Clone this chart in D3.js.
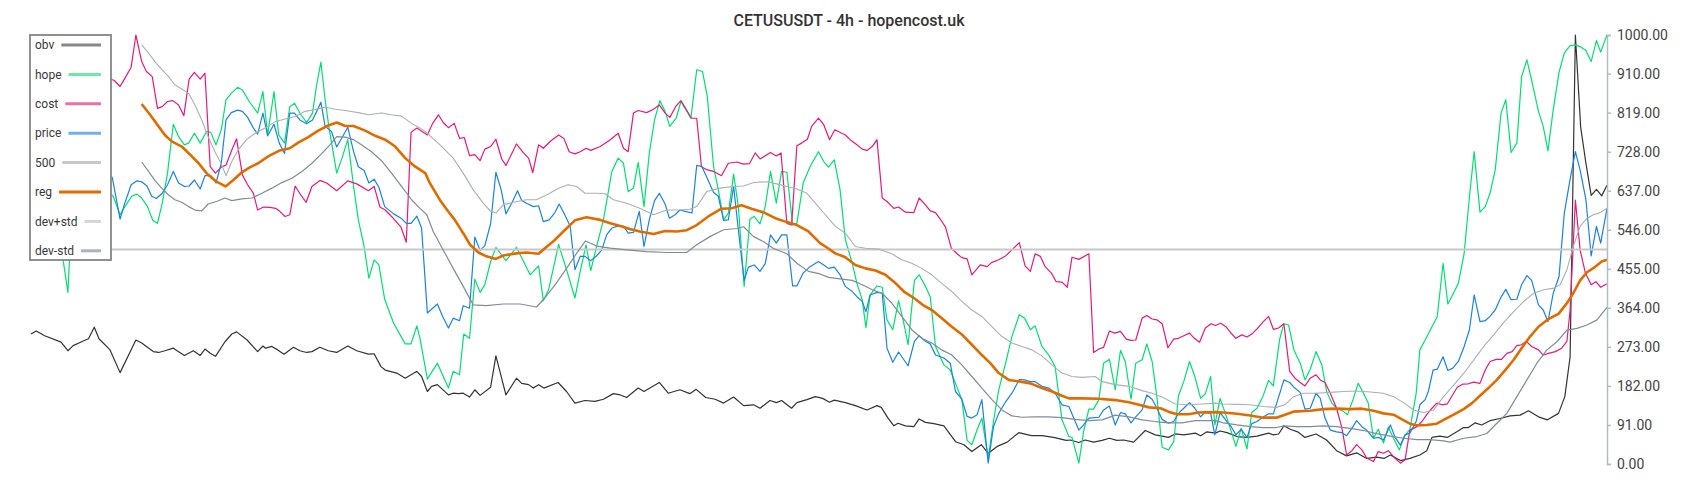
<!DOCTYPE html>
<html>
<head>
<meta charset="utf-8">
<script src="https://cdn.jsdelivr.net/npm/d3@7"></script>
<style>
  html, body { margin: 0; padding: 0; background: #fff; }
  svg { display: block; font-family: Roboto, "Noto Sans", sans-serif; }
</style>
</head>
<body>
<svg id="chart" width="1700" height="500"></svg>
<script>
// ---- data: [bar index, value] ----
const title = "CETUSUSDT - 4h - hopencost.uk";
const yTicks = [0, 91, 182, 273, 364, 455, 546, 637, 728, 819, 910, 1000];
const seriesNames = ["obv", "hope", "cost", "price", "500", "reg", "dev+std", "dev-std"];

const obv = [[0,303],[1,310],[2.6,299],[5.7,284],[7,264],[8,276],[9.6,285],[10.9,292],[12,319],[12.9,292],[15,266],[16.9,213],[19.9,289],[21,282],[23.2,262],[24.2,260],[25.4,264],[27,270],[29.1,253],[30.8,264],[32.1,253],[33,268],[34,258],[35,251],[36.8,285],[38.1,303],[39,308],[41,289],[43,262],[44,275],[44.5,270],[45.7,274],[46.8,266],[48,256],[49.8,272],[51,264],[52.3,260],[53.3,262],[54.8,272],[56.4,264],[58,260],[60.1,275],[61.8,264],[64,256],[65.1,257],[66.4,227],[67.2,219],[69.4,212],[71,200],[73.2,216],[74.1,204],[75.2,169],[76,181],[77.1,185],[79.2,161],[80.1,165],[81.1,164],[82,165],[83.2,156],[84.2,173],[85.2,160],[87.2,179],[88.2,252],[90.1,161],[92.1,200],[93.1,188],[94.4,185],[95.3,177],[96.3,185],[97.3,177],[100,190],[101.6,169],[103.2,142],[105.1,148],[107,146],[108.6,151],[110.5,164],[111.8,161],[113,155],[115.2,177],[116.3,169],[119.2,190],[120.9,165],[123.1,173],[125,164],[126.2,174],[128,155],[129.8,151],[131.4,142],[133.3,156],[135.2,136],[137.1,138],[138.3,130],[140.2,148],[141.4,143],[142.4,148],[144.3,130],[145.3,143],[147.2,150],[148.8,157],[150.2,153],[151.5,144],[152.4,149],[154.5,143],[156.4,136],[158.6,126],[160.5,136],[161.3,132],[162.6,107],[163.7,89],[164.5,95],[165.9,89],[167.5,87],[168.5,105],[169.7,97],[171.3,94],[173.2,89],[175.4,52],[177,45],[178.5,29],[180.3,45],[181.6,25],[183.3,41],[185.2,51],[187.4,73],[189.8,66],[191.8,66],[194,62],[196.4,55],[197.2,56],[198.8,50],[200,56],[201.6,51],[203.2,55],[204.6,60],[206,55],[207.3,56],[209.2,51],[211.4,78],[213.3,68],[215.8,62],[217.1,70],[218.7,68],[220.9,72],[221.9,66],[223.1,75],[224.7,72],[225.6,77],[226.9,73],[228.8,64],[230.7,62],[232.6,65],[234.8,72],[235.7,68],[236.7,70],[237.7,89],[238.9,81],[240.3,75],[241.7,62],[243.8,70],[245.8,56],[247.7,31],[249.6,19],[251.5,26],[253.4,13],[255.3,16],[256.7,13],[257.9,21],[259.8,8],[261.6,13],[263.5,21],[264.8,31],[265.8,62],[267.3,65],[268.7,62],[270.5,75],[271.8,85],[272.7,85],[274,96],[275.2,91],[276.8,101],[278.7,106],[280.6,112],[282.5,114],[284.1,124],[286,110],[287.7,103],[289.8,118],[291,157],[292,250],[293,1000],[294,786],[295,701],[296,626],[297,640],[298,625],[299,650]];

const hope = [[0,600],[3,560],[5.8,500],[7,400],[7.4,500],[10,600],[13,650],[15.6,624],[16.9,581],[17.8,600],[19.1,624],[20.1,629],[21,620],[22.1,600],[23.1,568],[24,561],[24.9,608],[25.9,678],[27,792],[28,763],[29.1,744],[29.9,748],[31,771],[32.1,748],[33.3,775],[34.1,773],[35.1,744],[36.1,779],[37,849],[38,864],[39.2,878],[40.1,872],[41.4,845],[43,818],[44,868],[44.9,767],[46.1,868],[47,767],[48.1,748],[49.1,833],[50,841],[51,818],[52.3,796],[53.4,818],[54.2,884],[55,937],[55.8,849],[56.5,787],[58,678],[59,713],[60.1,756],[61.2,647],[62.1,569],[63.2,507],[64.1,433],[65.1,476],[66,464],[67.1,384],[68.8,328],[71,280],[72.1,280],[73.2,322],[73.8,293],[75.2,198],[77.1,235],[79.2,177],[80.1,216],[81.3,208],[82.1,303],[83.2,293],[84.2,431],[85.2,400],[86.1,418],[87.2,472],[88.2,505],[90.1,474],[92.1,505],[94.7,441],[96.3,462],[97.2,381],[98.2,406],[100.1,512],[101.6,453],[103.2,387],[104.2,449],[105.3,511],[106.2,451],[107.3,507],[108.6,569],[110.2,682],[111.4,713],[112.4,701],[113.3,635],[114.3,643],[115.2,703],[116.3,600],[117.3,724],[118.3,802],[119.3,847],[120.3,822],[121.2,787],[122.4,806],[123.3,845],[125.2,806],[126.3,919],[127.4,915],[128.3,857],[129.5,693],[130.4,639],[131.4,569],[132.3,585],[133.3,676],[134.2,600],[135.3,414],[136.4,571],[137.2,577],[138.3,560],[139.3,600],[140.3,682],[141.4,608],[142.4,682],[143.4,680],[144.5,557],[145.3,561],[146.5,655],[147.8,693],[149.4,728],[150.4,705],[151.3,692],[152.4,709],[153.5,639],[154.5,523],[155.8,468],[156.7,421],[157.7,383],[158.4,318],[159.2,394],[160.5,415],[161.5,412],[162.4,336],[163.5,313],[164.6,381],[165.6,328],[166.4,278],[167.6,428],[168.5,441],[169.7,414],[170.6,390],[171.6,274],[173.2,231],[174.4,219],[175.4,188],[176.6,150],[177.6,55],[178.5,45],[179.5,80],[180.4,107],[181.6,14],[182.6,99],[183.6,173],[184.9,235],[186.1,297],[187.5,348],[188.5,340],[189.6,313],[190.5,322],[191.8,274],[193.1,254],[194.3,227],[195.6,103],[196.9,64],[197.5,62],[198.8,2],[199.7,76],[200.7,128],[201.6,128],[202.6,150],[203.5,235],[204.6,244],[205.7,173],[206.7,265],[207.6,239],[208.7,151],[209.6,235],[210.8,243],[211.7,280],[212.7,239],[213.6,157],[214.6,39],[215.8,33],[216.8,52],[217.7,159],[218.7,192],[219.8,239],[220.8,204],[221.9,153],[222.8,164],[223.8,204],[224.6,91],[225.6,153],[226.9,107],[228.6,41],[229.6,83],[230.7,35],[231.6,120],[232.6,130],[233.7,157],[234.8,195],[235.7,182],[236.9,291],[237.7,327],[238.6,324],[239.6,266],[240.8,235],[241.7,196],[242.7,221],[243.8,262],[244.9,231],[245.8,169],[246.8,142],[247.7,130],[248.7,125],[249.8,115],[250.8,150],[251.8,188],[252.8,165],[253.7,142],[254.7,60],[255.6,81],[256.6,49],[257.5,86],[258.5,60],[259.6,33],[260.7,68],[261.6,80],[262.8,165],[263.5,266],[264.5,289],[265.8,320],[266.8,344],[267.9,468],[268.8,373],[269.7,394],[270.8,421],[271.9,491],[272.9,623],[273.8,728],[274.9,587],[275.9,600],[276.8,631],[277.8,686],[278.9,818],[279.8,849],[280.8,726],[281.9,748],[282.8,903],[283.8,942],[284.7,895],[286,822],[286.9,787],[287.8,730],[288.8,826],[289.9,913],[290.9,958],[292,975],[293,977],[293.9,973],[295,964],[296,938],[297,987],[297.8,960],[299,1000]];

const cost = [[0,870],[4,880],[8,900],[12,880],[15.2,897],[15.8,894],[16.9,880],[17.8,899],[19,925],[19.9,1000],[21,938],[21.9,915],[23,903],[24,829],[24.9,833],[25.9,845],[26.9,847],[28,837],[29,812],[30,897],[31,913],[32.1,897],[33,911],[34,693],[35,678],[36.1,692],[37,697],[38.1,732],[39,758],[40.1,674],[41.1,651],[42.2,631],[43,592],[44.1,599],[45.3,598],[46.4,596],[47.2,589],[48.2,577],[49.1,581],[50.1,648],[51.2,627],[52.2,610],[53.3,647],[54.8,661],[56.1,655],[58,637],[60.1,660],[61.8,653],[64,637],[65.1,647],[66.2,599],[67.2,592],[68.4,577],[70.2,552],[71.2,517],[72.1,773],[73.2,783],[74.2,775],[75.2,767],[76.2,794],[77.3,814],[78.2,796],[79.2,784],[80.3,794],[81.3,759],[82.2,761],[83.2,719],[84.2,721],[85.2,707],[86.1,734],[87.2,740],[88.2,757],[89.3,711],[90.1,696],[91.2,723],[92.1,746],[93.4,726],[94.4,713],[95.2,679],[96.3,744],[97.2,736],[98.6,753],[100.1,767],[101.1,759],[102.1,728],[103.2,723],[104.2,728],[105.3,736],[106.2,731],[108,740],[109.9,756],[111.4,771],[112.4,736],[113.3,728],[114.3,818],[115.2,824],[116.8,819],[118.1,827],[119.2,837],[120.3,818],[121.2,808],[122.4,835],[123.3,847],[124.3,827],[125.3,806],[126.3,806],[127.2,693],[128.2,686],[129.5,682],[131,672],[132.3,701],[133.9,704],[135.2,699],[136.3,700],[137.4,725],[138.3,711],[140.3,726],[141.4,718],[142.3,725],[143.4,561],[144.3,557],[145.3,742],[146.2,748],[147.3,757],[148.1,787],[149.4,806],[150.4,791],[151.5,756],[152.5,779],[154.5,767],[155.4,756],[156.7,744],[157.7,734],[158.6,731],[159.6,740],[160.5,756],[161.5,620],[162.4,612],[163.7,596],[164.6,599],[165.9,587],[167.5,586],[168.5,620],[169.7,604],[170.6,590],[171.6,586],[172.5,571],[173.5,552],[174.6,503],[175.7,490],[176.6,481],[177.6,478],[178.5,441],[180.1,464],[181.4,460],[182.3,470],[183.6,476],[184.9,485],[186.1,499],[187.5,516],[188.6,462],[189.6,449],[190.5,490],[191.5,484],[192.4,460],[193.6,445],[194.5,425],[195.6,424],[196.6,412],[197.5,482],[198.8,477],[200.7,490],[201.6,260],[202.6,268],[203.5,272],[204.6,310],[205.6,305],[206.7,309],[207.8,291],[208.7,288],[209.6,289],[210.8,340],[211.7,346],[212.7,338],[213.6,336],[214.6,327],[215.7,271],[216.8,291],[217.7,293],[218.7,299],[219.8,305],[220.7,293],[221.7,284],[222.8,317],[223.9,327],[224.7,323],[225.7,328],[226.7,320],[227.6,306],[228.6,293],[229.7,301],[230.7,296],[231.8,305],[232.9,319],[233.8,332],[234.8,344],[235.7,314],[236.7,317],[237.7,327],[238.8,216],[239.8,200],[240.8,190],[241.7,182],[242.7,200],[243.8,208],[244.6,196],[245.5,190],[246.5,165],[247.7,130],[248.7,84],[249.6,21],[250.6,31],[251.5,45],[252.5,33],[253.4,14],[254.7,6],[255.6,29],[256.6,25],[257.5,31],[258.5,17],[259.8,2],[260.7,10],[261.6,79],[262.8,86],[263.9,99],[264.8,115],[265.8,130],[266.7,142],[267.7,138],[268.7,140],[269.7,161],[270.6,179],[271.6,186],[272.7,187],[273.7,191],[274.9,188],[275.9,219],[276.8,239],[278,244],[279,244],[280,258],[281,262],[281.9,276],[282.8,278],[283.7,286],[284.7,274],[286,266],[286.9,254],[287.9,258],[289.2,262],[290.4,270],[291.4,286],[292,359],[293,615],[293.9,499],[294.9,445],[296,418],[296.9,425],[297.8,412],[299,420]];

const price = [[0,640],[5,620],[10,660],[15.4,669],[16.9,571],[17.8,608],[19,651],[20.1,660],[21,658],[22,648],[22.9,624],[23.8,619],[24.9,631],[25.9,651],[27,682],[28,655],[29.1,647],[30,648],[31,662],[32.1,641],[33,672],[34.1,672],[35.1,655],[36.1,701],[37,802],[38,819],[39.2,825],[40.1,822],[41.1,808],[42.2,783],[43,769],[44,818],[44.9,765],[46.1,792],[47.1,748],[48.1,724],[49.1,818],[50,818],[51,802],[52.3,793],[53.4,802],[54.2,822],[55,843],[55.8,787],[57,775],[58,739],[59.1,763],[60.1,785],[61.2,728],[62.1,693],[63.2,684],[64.1,655],[65.1,664],[66,645],[67.1,600],[68.8,583],[70.2,573],[71.2,561],[72.1,561],[73.2,578],[74.1,550],[75.2,352],[76.2,363],[77.1,373],[78.1,344],[79.2,317],[80.1,340],[81.3,334],[82,369],[83.2,363],[84.2,529],[85.2,498],[86.1,509],[87.2,560],[88.2,680],[89.2,639],[90.1,583],[91.2,608],[92.3,637],[93.1,614],[94,608],[95.3,600],[96.3,602],[97.2,565],[98.3,569],[99.4,586],[100.2,606],[101.1,585],[102.3,554],[103.2,453],[104.2,484],[105.1,484],[106.2,474],[107.3,485],[108.3,499],[109.2,534],[110.2,550],[111.4,555],[112.5,554],[113.3,538],[114.3,540],[115.4,589],[116.3,507],[117.3,569],[118.3,614],[119.2,631],[120.3,606],[121.1,573],[122.2,581],[123.1,592],[124.1,589],[125.4,585],[126.3,696],[127.3,693],[128.3,666],[129.5,633],[130.4,624],[131.4,568],[132.3,569],[133.3,647],[134.2,546],[135.3,428],[136.1,459],[137.2,464],[138.3,449],[139.3,467],[140.3,534],[141.4,515],[142.4,534],[143.4,534],[144.5,415],[145.3,415],[146.5,445],[147.8,460],[149.4,472],[150.4,464],[151.3,456],[152.4,459],[153.5,441],[154.5,414],[155.8,402],[156.7,390],[157.7,379],[158.4,355],[159.2,394],[160.5,400],[161.5,398],[162.4,270],[163.5,237],[164.6,261],[165.6,243],[166.4,229],[167.6,286],[168.5,299],[169.7,286],[170.6,280],[171.6,254],[173.2,247],[174.4,235],[175.4,169],[176.6,151],[177.6,111],[178.5,107],[179.5,115],[180.4,150],[181.6,2],[182.6,87],[183.6,118],[184.9,145],[186.1,165],[187.5,197],[188.5,196],[189.6,192],[190.5,192],[191.8,181],[193.1,177],[194.3,165],[195.6,138],[196.9,134],[198.8,79],[199.7,91],[200.7,107],[202.6,109],[203.5,126],[204.6,135],[205.7,91],[206.7,120],[207.6,117],[208.7,96],[209.6,110],[210.8,126],[211.7,161],[212.7,151],[213.6,130],[214.6,104],[215.8,95],[216.8,99],[217.7,118],[218.7,130],[219.8,143],[220.8,130],[221.9,110],[222.8,122],[223.8,118],[224.6,68],[225.6,120],[226.9,99],[227.6,89],[228.6,68],[229.6,81],[230.7,62],[231.6,94],[232.6,99],[233.7,109],[234.8,117],[235.7,117],[236.9,164],[237.7,196],[238.8,190],[239.6,179],[240.8,167],[241.7,128],[242.7,130],[243.8,165],[244.6,153],[245.5,107],[246.5,79],[247.7,75],[248.7,73],[249.6,66],[250.6,83],[251.5,101],[252.5,87],[253.4,79],[254.7,60],[255.6,62],[256.6,56],[257.9,91],[258.8,62],[259.8,44],[260.7,68],[261.6,72],[262.8,99],[263.5,138],[264.5,150],[265.1,169],[266,219],[266.8,221],[267.9,250],[268.8,218],[269.7,223],[270.8,239],[271.9,274],[272.9,313],[273.8,394],[274.9,332],[275.9,334],[276.8,344],[277.8,359],[278.9,389],[279.8,407],[280.8,383],[281.9,384],[282.8,418],[283.8,439],[284.7,428],[286,371],[286.9,359],[287.8,332],[288.8,398],[289.9,437],[290.9,585],[292,664],[293,728],[293.9,685],[295,616],[296,485],[297,554],[297.8,515],[299,596]];

const level500 = [[0,500],[299,500]];

const reg = [[21,839],[22.6,814],[24.2,787],[25.4,767],[26.7,752],[28.6,740],[30.2,721],[31.8,701],[33.3,678],[35.2,658],[36.9,647],[38.4,662],[40,680],[41.6,692],[43.1,701],[45,717],[47.2,731],[49.1,736],[50.7,749],[52.6,762],[54.5,777],[56.4,789],[58,796],[59.6,788],[61.2,788],[63.4,777],[65.3,765],[67.2,756],[69.1,740],[71,713],[72.9,693],[74.8,678],[75.7,654],[77.6,615],[79.2,588],[80.4,569],[82,538],[83.3,511],[84.9,493],[86.4,484],[88.2,478],[89.6,486],[92.1,491],[94,493],[96.3,490],[97.5,503],[99.1,519],[101,542],[103.2,568],[105.4,575],[108,569],[109.9,561],[111.8,555],[113.6,548],[115.5,542],[118.1,536],[120.3,543],[122.5,542],[124.4,545],[126.3,557],[128.5,577],[131,595],[132.9,596],[134.8,603],[136.7,595],[138.9,587],[141.2,573],[143.1,565],[145.3,557],[147.5,542],[149.7,515],[150.7,507],[152.6,491],[154.5,482],[156.4,464],[158.3,456],[160.2,451],[162.1,441],[163.7,425],[165.6,402],[167.5,387],[169.4,369],[170.9,359],[172.8,340],[174.7,320],[176.6,302],[178.5,278],[180.4,254],[182,235],[183.6,212],[185.5,196],[187.7,192],[189.6,188],[191.8,177],[193.7,169],[195.6,159],[196.9,153],[199.4,153],[202.6,152],[205.7,149],[208.3,144],[210.2,138],[212.1,132],[214.3,130],[215.8,122],[217.4,116],[219.6,116],[221.5,120],[224.7,121],[226.2,120],[228.8,117],[231.3,113],[233.8,108],[236.3,108],[237.9,115],[239.5,122],[242.7,124],[245.2,128],[247.7,129],[250.3,128],[252.5,129],[254.7,124],[256.6,118],[258.5,115],[260.1,104],[261.6,94],[262.9,90],[264.8,91],[266.7,94],[268,103],[269.9,115],[271.8,128],[273.4,142],[274.9,159],[276.5,177],[278.1,196],[279.7,219],[281.3,243],[282.8,270],[284.4,297],[286,320],[287.9,338],[289.8,350],[291.4,375],[292.6,398],[293.9,428],[295.2,447],[296.7,459],[298,472],[299,476]];

const devPlus = [[21,977],[22.3,958],[23.5,938],[24.8,920],[26.1,903],[27.3,884],[28.6,874],[29.9,864],[31.1,837],[32.4,802],[33.6,763],[34.9,728],[36.2,697],[37,672],[38.1,705],[39.3,732],[40.9,756],[42.5,771],[44.4,783],[46.3,798],[48.2,804],[50.1,810],[52,822],[53.9,826],[55.8,832],[57.7,827],[59.6,824],[62.1,819],[64,814],[66.5,818],[68.4,814],[70.3,811],[72.2,794],[73.8,783],[74.8,775],[75.7,765],[77.6,744],[80.1,713],[82,678],[83.9,639],[85.8,608],[87.2,589],[88.2,585],[89.6,604],[91.5,610],[94,616],[95.9,616],[97.8,627],[100.1,643],[101.9,651],[103.5,647],[105.1,631],[107.3,631],[108.9,630],[110.5,616],[113,608],[115.5,596],[118.1,581],[120.6,592],[123.1,592],[125,594],[126.3,600],[128.2,635],[130.7,643],[133.3,647],[135.2,648],[137.1,656],[139.6,658],[141.5,653],[143.4,647],[145.3,641],[147.2,631],[148.8,608],[150.7,581],[152.6,554],[154.5,538],[156.4,507],[158.3,503],[160.8,501],[163.3,490],[165.2,476],[167.1,468],[169,456],[170.9,441],[172.8,421],[174.7,402],[176.6,379],[178.5,359],[180.4,344],[182.3,320],[184.2,297],[186.1,282],[188,274],[189.9,266],[191.8,252],[193.7,231],[195.6,212],[197.5,204],[199.4,202],[201.9,204],[203.2,192],[205.7,185],[208.3,181],[210.8,171],[212.7,165],[214.6,156],[217.1,140],[219.6,138],[222.2,140],[224.7,142],[226.2,140],[228.8,139],[231.3,138],[233.8,134],[236.3,132],[237.9,138],[239.5,157],[241.4,165],[243.9,165],[246.5,167],[249,169],[251.5,170],[254.1,168],[256.6,165],[258.5,157],[260.4,143],[262.3,126],[264.2,120],[266.1,126],[268,157],[269.9,184],[271.8,211],[273.7,242],[275.6,274],[277.5,301],[279.4,330],[281.3,355],[283.2,379],[285.1,398],[287,406],[288.9,410],[290.1,418],[291.4,453],[292.6,507],[293.9,554],[295.2,573],[296.4,581],[297.7,586],[299,596]];

const devMinus = [[21,704],[22.3,682],[23.5,661],[24.8,643],[26.1,627],[27.3,616],[28.6,610],[29.9,600],[31.1,592],[32.4,590],[33.6,606],[35.2,612],[36.8,620],[38.1,614],[40,618],[41.9,620],[43.8,631],[45.7,643],[47.6,656],[49.5,666],[51.4,682],[53.3,701],[55.2,724],[56.7,744],[58,763],[59.6,762],[61.2,756],[62.7,744],[64.6,728],[66.5,707],[68.4,678],[70.3,647],[72.2,616],[73.8,596],[75.1,581],[76.3,542],[78.2,499],[80.1,456],[82,414],[83.9,371],[86.4,369],[89.6,373],[92.8,373],[95.9,366],[97.5,387],[99.7,422],[101.6,456],[103.5,491],[105.2,520],[107.3,508],[109.9,503],[113,499],[116.8,495],[120.6,493],[124.4,493],[126.3,511],[128.8,530],[131.4,546],[133.9,549],[135.2,553],[137.1,530],[139,518],[140.8,503],[143.4,490],[145.3,468],[147.5,449],[149.7,443],[151.3,435],[153.9,431],[155.8,428],[157.7,418],[159.6,406],[161.5,398],[163.3,375],[165.2,344],[167.1,313],[169,293],[170.9,282],[172.8,266],[174.7,254],[176.6,231],[178.5,204],[180.4,177],[182.3,150],[184.2,126],[186.1,112],[188,109],[190.5,110],[193.1,110],[195.6,108],[198.1,104],[200.7,101],[203.2,103],[205.7,114],[208.3,110],[210.8,103],[213.3,99],[215.8,96],[218.4,96],[220.9,101],[224.7,101],[226.2,96],[228.8,91],[231.3,87],[233.8,85],[236.3,85],[237.7,89],[240.1,87],[242.7,87],[245.2,89],[247.7,87],[250.3,83],[252.8,78],[255.3,71],[257.9,65],[260.4,60],[262.9,57],[265.4,57],[268,54],[269.2,51],[271.8,60],[274.3,64],[276.2,71],[278.1,95],[280,118],[281.9,157],[283.8,196],[285.7,235],[287.6,266],[289.5,285],[291.4,312],[293.3,316],[295.2,324],[297.1,336],[299,365]];

// ---- styles ----
const styles = {
  "obv":     { data: obv,      color: "#333333", width: 1.2, swatch: "#888888" },
  "hope":    { data: hope,     color: "#00e070", width: 1.2, swatch: "#6fe8a6" },
  "cost":    { data: cost,     color: "#e8197b", width: 1.2, swatch: "#ee6eaa" },
  "price":   { data: price,    color: "#1a83e2", width: 1.2, swatch: "#6fb0ee" },
  "500":     { data: level500, color: "#c8c8c8", width: 2,   swatch: "#c8c8c8" },
  "reg":     { data: reg,      color: "#e06c00", width: 2.6, swatch: "#e06c00" },
  "dev+std": { data: devPlus,  color: "#a9b0b6", width: 1.1, swatch: "#d3d6d9" },
  "dev-std": { data: devMinus, color: "#7e8d99", width: 1.2, swatch: "#a9b3bb" }
};

const svg = d3.select("#chart");
const x = d3.scaleLinear().domain([0, 299]).range([31, 1607]);
const y = d3.scaleLinear().domain([0, 1000]).range([464, 35]);

// title
svg.append("text")
  .attr("x", 849).attr("y", 26)
  .attr("text-anchor", "middle")
  .attr("font-size", 16).attr("font-weight", 500)
  .attr("fill", "#333")
  .text(title);

// lines
const line = d3.line().x(d => x(d[0])).y(d => y(d[1]));
const gLines = svg.append("g");
seriesNames.forEach(name => {
  const s = styles[name];
  gLines.append("path")
    .datum(s.data)
    .attr("d", line)
    .attr("fill", "none")
    .attr("stroke", s.color)
    .attr("stroke-width", s.width)
    .attr("stroke-linejoin", "round");
});

// right axis
const axis = d3.axisRight(y).tickValues(yTicks).tickFormat(d3.format(".2f")).tickSize(4).tickPadding(6);
const gAxis = svg.append("g").attr("transform", `translate(${x(299)},0)`).call(axis);
gAxis.selectAll("path, line").attr("stroke", "#b3bbc3").attr("stroke-width", 1.5);
gAxis.selectAll("text").attr("font-size", 14).attr("fill", "#444")
  .attr("font-family", "Roboto, 'Noto Sans', sans-serif");

// legend
const lg = svg.append("g");
lg.append("rect")
  .attr("x", 30).attr("y", 35).attr("width", 81).attr("height", 225)
  .attr("fill", "#fff").attr("stroke", "#858585").attr("stroke-width", 1.8);
seriesNames.forEach((name, i) => {
  const cy = 45 + i * 29.4;
  const t = lg.append("text")
    .attr("x", 35).attr("y", cy).attr("dy", "0.35em")
    .attr("font-size", 12).attr("fill", "#383838")
    .text(name);
  const w = t.node().getComputedTextLength();
  lg.append("line")
    .attr("x1", 35 + w + 7).attr("x2", 101)
    .attr("y1", cy).attr("y2", cy)
    .attr("stroke", styles[name].swatch)
    .attr("stroke-width", 3);
});
</script>
</body>
</html>
